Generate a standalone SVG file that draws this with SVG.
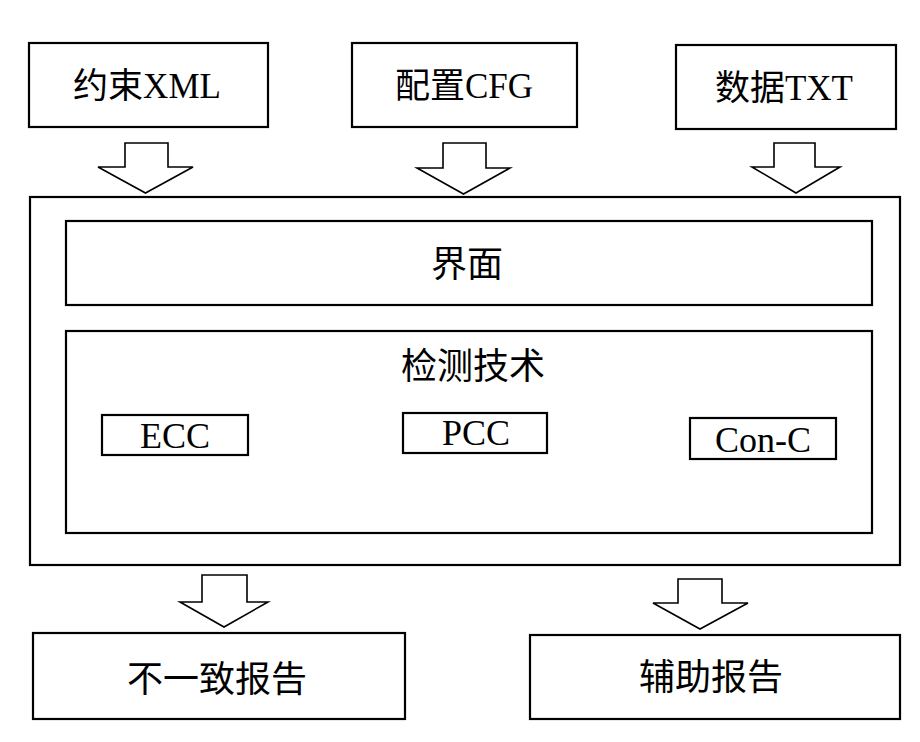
<svg xmlns="http://www.w3.org/2000/svg" width="920" height="742" viewBox="0 0 920 742">
<style>
.box{fill:#fff;stroke:#000;stroke-width:2.2}
.arr{fill:#fff;stroke:#000;stroke-width:1.6;stroke-linejoin:miter}
.t{font-family:"Liberation Serif","Noto Sans CJK SC",serif;font-size:35px;fill:#000;text-anchor:middle}
.s{font-family:"Liberation Serif","Noto Sans CJK SC",serif;font-size:36px;fill:#000;text-anchor:middle}
</style>
<rect width="920" height="742" fill="#fff"/>
<g id="connectors">
<polygon class="arr" points="125,143 168,143 168,167 193,167 145.5,193 98,167 125,167"/>
<polygon class="arr" points="443,143 486,143 486,168 510,168 463.5,194 417,168 443,168"/>
<polygon class="arr" points="774,143 815,143 815,167 840,167 796,193 752,167 774,167"/>
<polygon class="arr" points="202,575 247,575 247,602 268,602 224,627 180,602 202,602"/>
<polygon class="arr" points="678,579 722,579 722,603 748,603 700,629 653,603 678,603"/>
</g>
<g id="node-xml"><rect class="box" x="29" y="43" width="239" height="84"/><text class="t" x="147" y="98">约束XML</text></g>
<g id="node-cfg"><rect class="box" x="352" y="43" width="225" height="84"/><text class="t" x="464" y="98">配置CFG</text></g>
<g id="node-txt"><rect class="box" x="676" y="45" width="220" height="84"/><text class="t" x="784" y="100">数据TXT</text></g>
<g id="node-system"><rect class="box" x="30" y="197" width="870" height="368"/></g>
<g id="node-ui"><rect class="box" x="66" y="221" width="806" height="84"/><text class="s" x="467" y="277">界面</text></g>
<g id="node-detect"><rect class="box" x="66" y="331" width="806" height="202"/><text class="s" x="473" y="379">检测技术</text></g>
<g id="node-ecc"><rect class="box" x="102" y="415" width="146" height="40"/><text class="s" x="175" y="448">ECC</text></g>
<g id="node-pcc"><rect class="box" x="403" y="413" width="144" height="40"/><text class="s" x="476" y="445">PCC</text></g>
<g id="node-conc"><rect class="box" x="690" y="418" width="146" height="41"/><text class="s" x="763" y="452">Con-C</text></g>
<g id="node-inconsistent"><rect class="box" x="33" y="633" width="372" height="86"/><text class="s" x="217" y="692">不一致报告</text></g>
<g id="node-aux"><rect class="box" x="530" y="635" width="370" height="84"/><text class="s" x="711" y="690">辅助报告</text></g>
</svg>
